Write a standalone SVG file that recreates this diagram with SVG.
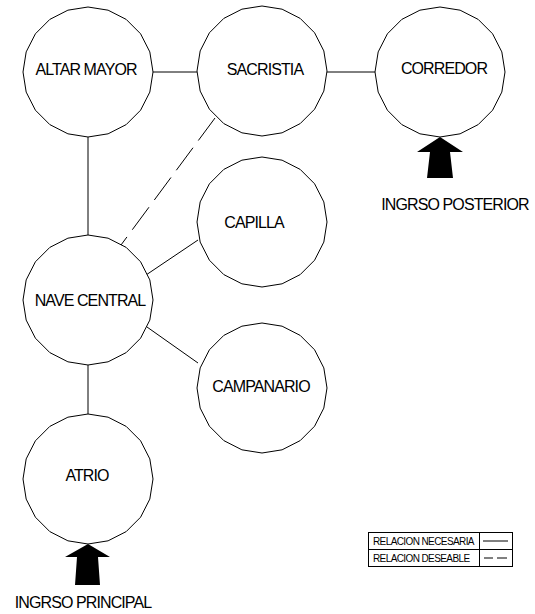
<svg xmlns="http://www.w3.org/2000/svg" xmlns:xlink="http://www.w3.org/1999/xlink" width="535" height="614" viewBox="0 0 535 614">
<style>
.n{fill:#fff;stroke:#000;stroke-width:1}
.t{font-family:"Liberation Sans",Arial,sans-serif;font-size:16px;letter-spacing:-0.9px;text-anchor:middle;fill:#000}
.s{font-family:"Liberation Sans",Arial,sans-serif;font-size:10px;letter-spacing:-0.6px;fill:#000}
.c{stroke:#000;stroke-width:1;fill:none}
.d{stroke-dasharray:28 9}
.a{fill:#000;stroke:none}
</style>
<defs>
<polygon id="g" class="n" points="65,0 61.82,20.09 52.59,38.21 38.21,52.59 20.09,61.82 0,65 -20.09,61.82 -38.21,52.59 -52.59,38.21 -61.82,20.09 -65,0 -61.82,-20.09 -52.59,-38.21 -38.21,-52.59 -20.09,-61.82 0,-65 20.09,-61.82 38.21,-52.59 52.59,-38.21 61.82,-20.09"/>
</defs>
<rect width="535" height="614" fill="#fff"/>
<g id="connectors">
<line class="c" x1="153" y1="72" x2="197" y2="72"/>
<line class="c" x1="327" y1="72" x2="375" y2="72"/>
<line class="c" x1="88" y1="137" x2="88" y2="235"/>
<line class="c d" x1="215" y1="118" x2="121" y2="245"/>
<line class="c" x1="146" y1="275" x2="198" y2="240"/>
<line class="c" x1="147" y1="327" x2="198" y2="363"/>
<line class="c" x1="88" y1="365" x2="88" y2="415"/>
</g>
<g id="altar-mayor"><use xlink:href="#g" x="88" y="72"/><text class="t" x="86" y="75">ALTAR MAYOR</text></g>
<g id="sacristia"><use xlink:href="#g" x="262" y="71"/><text class="t" x="265" y="75">SACRISTIA</text></g>
<g id="corredor"><use xlink:href="#g" x="440" y="72"/><text class="t" x="444" y="74">CORREDOR</text></g>
<g id="capilla"><use xlink:href="#g" x="262" y="222"/><text class="t" x="254" y="228">CAPILLA</text></g>
<g id="nave-central"><use xlink:href="#g" x="88" y="300"/><text class="t" x="90" y="306">NAVE CENTRAL</text></g>
<g id="campanario"><use xlink:href="#g" x="262" y="388"/><text class="t" x="261" y="392">CAMPANARIO</text></g>
<g id="atrio"><use xlink:href="#g" x="88" y="479"/><text class="t" x="87" y="481">ATRIO</text></g>
<g id="ingreso-posterior">
<polygon class="a" points="440,137 463,152 450,152 453,178 427,178 430,152 417,152"/>
<text class="t" x="455" y="210">INGRSO POSTERIOR</text>
</g>
<g id="ingreso-principal">
<polygon class="a" points="88,544 110,557 98,557 100,585 75,585 77,557 65,557"/>
<text class="t" x="83" y="608">INGRSO PRINCIPAL</text>
</g>
<g id="legend">
<rect x="368.5" y="532.5" width="144" height="34" fill="#fff" stroke="#000" stroke-width="1"/>
<line class="c" x1="368.5" y1="549.5" x2="512.5" y2="549.5"/>
<line class="c" x1="479.5" y1="532.5" x2="479.5" y2="566.5"/>
<text class="s" x="373" y="545">RELACION NECESARIA</text>
<text class="s" x="373" y="562">RELACION DESEABLE</text>
<line class="c" x1="483" y1="541" x2="508" y2="541"/>
<line class="c" x1="484" y1="558" x2="493" y2="558"/>
<line class="c" x1="497" y1="558" x2="507" y2="558"/>
</g>
</svg>
